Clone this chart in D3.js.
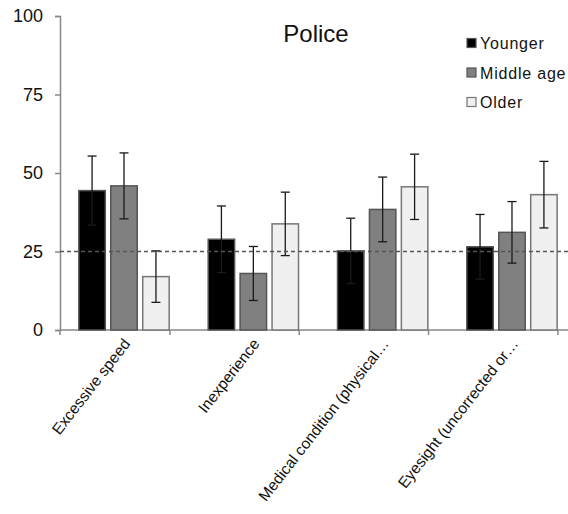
<!DOCTYPE html>
<html>
<head>
<meta charset="utf-8">
<script src="https://cdn.jsdelivr.net/npm/d3@7"></script>
<style>
  html, body { margin: 0; padding: 0; background: #fff; }
  svg { display: block; font-family: "Liberation Sans", Arial, sans-serif; }
</style>
</head>
<body>
<svg id="chart" width="568" height="514"></svg>
<script>
// Perceived crash causes by driver age group, as rated by police (%)
const categories = ["Excessive speed", "Inexperience", "Medical condition (physical…", "Eyesight (uncorrected or…"];
const seriesNames = ["Younger", "Middle age", "Older"];
const younger   = [44.4, 28.9, 25.2, 26.5];
const middleAge = [45.9, 18.0, 38.4, 31.1];
const older     = [17.0, 33.8, 45.6, 43.1];
const youngerErr   = [11.0, 10.6, 10.4, 10.3];
const middleAgeErr = [10.5,  8.6, 10.3,  9.8];
const olderErr     = [ 8.2, 10.1, 10.4, 10.6];
const yTicks = [0, 25, 50, 75, 100];
const referenceLevel = 25;
const title = "Police";

const seriesValues = [younger, middleAge, older];
const seriesErrors = [youngerErr, middleAgeErr, olderErr];
const fills   = ["#000000", "#808080", "#f0f0f0"];
const strokes = ["#555555", "#555555", "#777777"];

const svg = d3.select("#chart");
const plotLeft = 60, plotTop = 16, plotBottom = 330;

const y = d3.scaleLinear().domain([0, 100]).range([plotBottom, plotTop]);
const x0 = d3.scaleBand().domain(categories).range([plotLeft, 576])
  .paddingInner(0.29).paddingOuter(0.14);
const x1 = d3.scaleBand().domain(seriesNames).range([0, x0.bandwidth()])
  .paddingInner(0.125).paddingOuter(0);

// y axis
const yAxis = svg.append("g").attr("transform", `translate(${plotLeft},0)`)
  .call(d3.axisLeft(y).tickValues(yTicks).tickSize(5).tickPadding(12));
yAxis.select(".domain").attr("stroke", "#888").attr("stroke-width", 1.5);
yAxis.selectAll(".tick line").attr("stroke", "#888").attr("stroke-width", 1.5);
yAxis.selectAll(".tick text").attr("font-size", 18).attr("fill", "#111")
  .attr("font-family", "Liberation Sans, Arial, sans-serif");

// x axis line with tick marks at the right edge of each group
svg.append("line").attr("x1", plotLeft).attr("x2", 568)
  .attr("y1", y(0)).attr("y2", y(0)).attr("stroke", "#888").attr("stroke-width", 1.5);
const tickXs = [plotLeft].concat(categories.map(c => x0(c) + x0.bandwidth()));
svg.selectAll(".xtick").data(tickXs).enter().append("line")
  .attr("x1", d => d).attr("x2", d => d)
  .attr("y1", y(0)).attr("y2", y(0) + 5)
  .attr("stroke", "#888").attr("stroke-width", 1.5);

// bars
const groups = svg.selectAll(".grp").data(categories).enter().append("g")
  .attr("transform", c => `translate(${x0(c)},0)`);
groups.each(function(c, i) {
  const g = d3.select(this);
  seriesNames.forEach((s, j) => {
    const v = seriesValues[j][i];
    g.append("rect")
      .attr("x", x1(s) + 0.75).attr("width", x1.bandwidth() - 1.5)
      .attr("y", y(v)).attr("height", y(0) - y(v))
      .attr("fill", fills[j]).attr("stroke", strokes[j]).attr("stroke-width", 1.5);
  });
});

// reference line
svg.append("line").attr("x1", plotLeft).attr("x2", 568)
  .attr("y1", y(referenceLevel)).attr("y2", y(referenceLevel))
  .attr("stroke", "#555").attr("stroke-width", 1.3).attr("stroke-dasharray", "4,3");

// error bars
groups.each(function(c, i) {
  const g = d3.select(this);
  seriesNames.forEach((s, j) => {
    const v = seriesValues[j][i], e = seriesErrors[j][i];
    const cx = x1(s) + x1.bandwidth() / 2;
    const col = "#1a1a1a";
    g.append("line").attr("x1", cx).attr("x2", cx)
      .attr("y1", y(v + e)).attr("y2", y(v - e)).attr("stroke", col).attr("stroke-width", 1.3);
    [v + e, v - e].forEach(t => {
      g.append("line").attr("x1", cx - 4.5).attr("x2", cx + 4.5)
        .attr("y1", y(t)).attr("y2", y(t)).attr("stroke", col).attr("stroke-width", 1.3);
    });
  });
});

// category labels
svg.selectAll(".xlab").data(categories).enter().append("text")
  .attr("transform", c => `translate(${x0(c) + x0.bandwidth() / 2 + 7},${y(0) + 14}) rotate(-52)`)
  .attr("text-anchor", "end").attr("font-size", 15.5)
  .attr("fill", "#111")
  .text(c => c);

// title
svg.append("text").attr("x", 316).attr("y", 41.5).attr("text-anchor", "middle")
  .attr("font-size", 24).attr("fill", "#111").text(title);

// legend
const legend = svg.append("g");
seriesNames.forEach((s, j) => {
  const ly = 43.5 + j * 29.5;
  legend.append("rect").attr("x", 467).attr("y", ly - 5).attr("width", 9).attr("height", 9)
    .attr("fill", fills[j]).attr("stroke", strokes[j]).attr("stroke-width", 1.2);
  legend.append("text").attr("x", 480).attr("y", ly + 5.8)
    .attr("font-size", 16).attr("letter-spacing", 0.8).attr("fill", "#111").text(s);
});
</script>
</body>
</html>
